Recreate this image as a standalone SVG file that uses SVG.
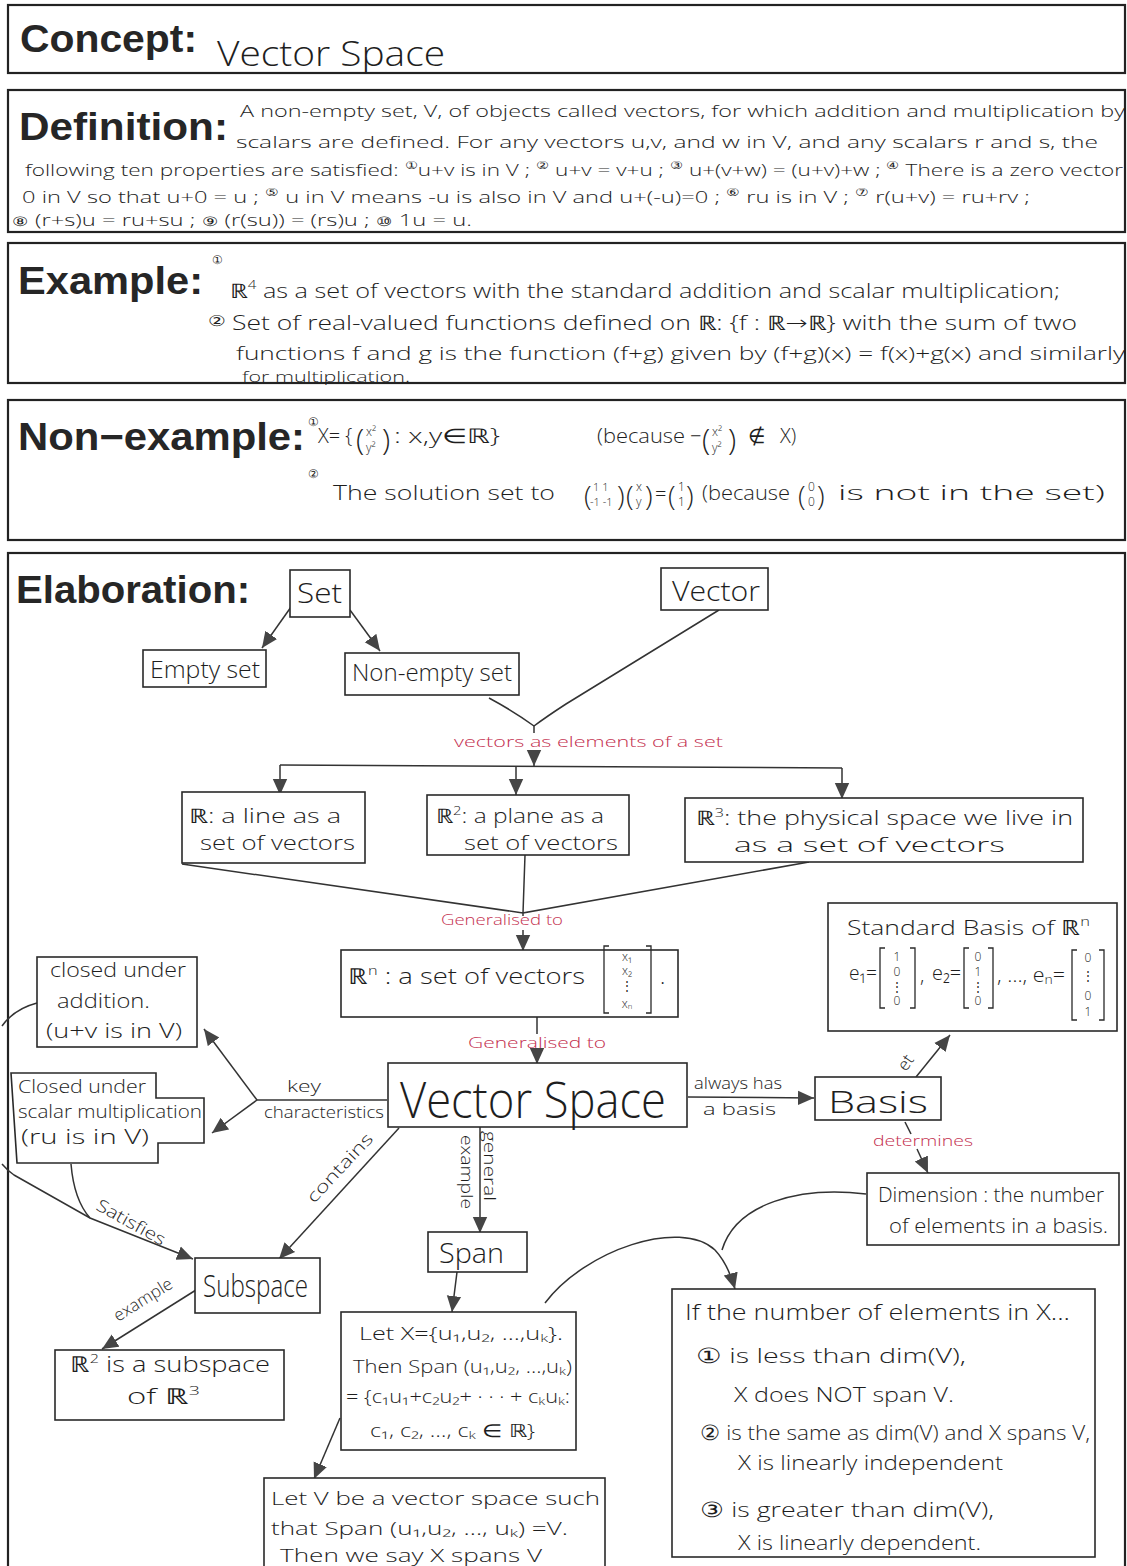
<svg xmlns="http://www.w3.org/2000/svg" width="1127" height="1566" viewBox="0 0 1127 1566">
<style>
.sec{fill:none;stroke:#222;stroke-width:2.2}
.hd{font-family:"Liberation Sans",Arial,sans-serif;font-weight:bold;font-size:38px;fill:#262626}
.hw{font-family:"Open Sans","DejaVu Sans",sans-serif;font-weight:300;fill:#1e1e1e}
.box{fill:#fff;stroke:#2a2a2a;stroke-width:1.6}
.ln{fill:none;stroke:#333;stroke-width:1.5}
.ar{fill:none;stroke:#333;stroke-width:1.5;marker-end:url(#ah)}
.red{font-family:"Open Sans","DejaVu Sans",sans-serif;font-weight:300;fill:#c4304f;font-size:15px}
.lb{font-family:"Open Sans","DejaVu Sans",sans-serif;font-weight:300;fill:#1e1e1e;font-size:17px}
.br{fill:none;stroke:#2a2a2a;stroke-width:1.3}
</style>
<defs>
<marker id="ah" viewBox="0 0 10 10" refX="10" refY="5" markerWidth="16" markerHeight="16" markerUnits="userSpaceOnUse" orient="auto">
<path d="M0,0.5 L10,5 L0,9.5 z" fill="#454545"/>
</marker>
</defs>
<rect width="1127" height="1566" fill="#fff"/>

<!-- Concept -->
<g id="concept">
<rect class="sec" x="8" y="5" width="1117" height="68"/>
<text class="hd" x="20" y="52" textLength="177" lengthAdjust="spacingAndGlyphs">Concept:</text>
<text class="hw" x="217" y="66" font-size="34" textLength="228" lengthAdjust="spacingAndGlyphs">Vector Space</text>
</g>

<!-- Definition -->
<g id="definition">
<rect class="sec" x="8" y="90" width="1117" height="142"/>
<text class="hd" x="19" y="140" textLength="209" lengthAdjust="spacingAndGlyphs">Definition:</text>
<g class="hw" font-size="17">
<text x="240" y="117" textLength="885" lengthAdjust="spacingAndGlyphs">A non-empty set, V, of objects called vectors, for which addition and multiplication by</text>
<text x="236" y="148" textLength="862" lengthAdjust="spacingAndGlyphs">scalars are defined. For any vectors u,v, and w in V, and any scalars r and s, the</text>
<text x="25" y="176" textLength="1098" lengthAdjust="spacingAndGlyphs">following ten properties are satisfied: <tspan font-size="11" dy="-7">①</tspan><tspan dy="7">u+v is in V ; </tspan><tspan font-size="11" dy="-7">②</tspan><tspan dy="7"> u+v = v+u ; </tspan><tspan font-size="11" dy="-7">③</tspan><tspan dy="7"> u+(v+w) = (u+v)+w ; </tspan><tspan font-size="11" dy="-7">④</tspan><tspan dy="7"> There is a zero vector</tspan></text>
<text x="22" y="203" textLength="1008" lengthAdjust="spacingAndGlyphs">0 in V so that u+0 = u ; <tspan font-size="11" dy="-7">⑤</tspan><tspan dy="7"> u in V means -u is also in V and u+(-u)=0 ; </tspan><tspan font-size="11" dy="-7">⑥</tspan><tspan dy="7"> ru is in V ; </tspan><tspan font-size="11" dy="-7">⑦</tspan><tspan dy="7"> r(u+v) = ru+rv ;</tspan></text>
<text x="12" y="226" textLength="460" lengthAdjust="spacingAndGlyphs"><tspan font-size="13">⑧</tspan> (r+s)u = ru+su ;  <tspan font-size="13">⑨</tspan> (r(su)) = (rs)u ;  <tspan font-size="13">⑩</tspan> 1u = u.</text>
</g>
</g>

<!-- Example -->
<g id="example">
<rect class="sec" x="8" y="243" width="1117" height="140"/>
<text class="hd" x="18" y="294" textLength="185" lengthAdjust="spacingAndGlyphs">Example:</text>
<g class="hw" font-size="20">
<text x="212" y="264" font-size="12">①</text>
<text x="230" y="298" textLength="830" lengthAdjust="spacingAndGlyphs">ℝ<tspan font-size="12" dy="-9">4</tspan><tspan dy="9"> as a set of vectors with the standard addition and scalar multiplication;</tspan></text>
<text x="208" y="330" textLength="869" lengthAdjust="spacingAndGlyphs"><tspan font-size="15" dy="-4">②</tspan><tspan dy="4"> Set of real-valued functions defined on ℝ: {f : ℝ→ℝ} with the sum of two</tspan></text>
<text x="236" y="360" font-size="19" textLength="889" lengthAdjust="spacingAndGlyphs">functions f and g is the function (f+g) given by (f+g)(x) = f(x)+g(x) and similarly</text>
<text x="242" y="382" font-size="15" textLength="168" lengthAdjust="spacingAndGlyphs">for multiplication.</text>
</g>
</g>

<!-- Non-example -->
<g id="non-example">
<rect class="sec" x="8" y="400" width="1117" height="140"/>
<text class="hd" x="18" y="450" textLength="287" lengthAdjust="spacingAndGlyphs">Non−example:</text>
<g class="hw" font-size="20">
<text x="308" y="426" font-size="12">①</text>
<text x="318" y="443">X= {</text>
<text x="356" y="450" font-size="30">(</text>
<text x="366" y="436" font-size="12">x²</text>
<text x="366" y="452" font-size="12">y²</text>
<text x="382" y="450" font-size="30">)</text>
<text x="394" y="443" textLength="106" lengthAdjust="spacingAndGlyphs">: x,y∈ℝ}</text>
<text x="597" y="443" textLength="88" lengthAdjust="spacingAndGlyphs">(because</text>
<text x="690" y="443">−</text>
<text x="702" y="450" font-size="30">(</text>
<text x="712" y="436" font-size="12">x²</text>
<text x="712" y="452" font-size="12">y²</text>
<text x="728" y="450" font-size="30">)</text>
<text x="748" y="443">∉</text>
<text x="780" y="443">X)</text>

<text x="308" y="478" font-size="12">②</text>
<text x="333" y="500" textLength="222" lengthAdjust="spacingAndGlyphs">The solution set to</text>
<text x="584" y="506" font-size="28">(</text>
<text x="593" y="491" font-size="11">1  1</text>
<text x="590" y="506" font-size="11">-1 -1</text>
<text x="617" y="506" font-size="28">)</text>
<text x="626" y="506" font-size="28">(</text>
<text x="636" y="491" font-size="12">x</text>
<text x="636" y="506" font-size="12">y</text>
<text x="645" y="506" font-size="28">)</text>
<text x="655" y="501">=</text>
<text x="668" y="506" font-size="28">(</text>
<text x="678" y="491" font-size="12">1</text>
<text x="678" y="506" font-size="12">1</text>
<text x="686" y="506" font-size="28">)</text>
<text x="702" y="500" textLength="88" lengthAdjust="spacingAndGlyphs">(because</text>
<text x="798" y="506" font-size="28">(</text>
<text x="808" y="491" font-size="12">0</text>
<text x="808" y="506" font-size="12">0</text>
<text x="817" y="506" font-size="28">)</text>
<text x="838" y="500" textLength="267" lengthAdjust="spacingAndGlyphs">is not in the set)</text>
</g>
</g>

<!-- Elaboration -->
<g id="elaboration">
<rect class="sec" x="8" y="553" width="1117" height="1030"/>
<text class="hd" x="16" y="603" textLength="234" lengthAdjust="spacingAndGlyphs">Elaboration:</text>
</g>

<!-- Connectors -->
<g id="connectors">
<path class="ar" d="M291,607 L262,648"/>
<path class="ar" d="M350,610 L380,651"/>
<path class="ln" d="M489,698 Q515,712 534,726"/>
<path class="ln" d="M719,610 L566,704 Q546,717 534,726"/>
<path class="ln" d="M534,726 L534,733"/>
<path class="ar" d="M534,750 L534,766"/>
<path class="ln" d="M280,765 L842,768"/>
<path class="ar" d="M280,765 L280,795"/>
<path class="ar" d="M516,766 L516,795"/>
<path class="ar" d="M842,768 L842,799"/>
<text class="red" x="454" y="747" font-size="16" textLength="269" lengthAdjust="spacingAndGlyphs">vectors as elements of a set</text>

<path class="ln" d="M182,864 L523,913 M525,855 L523,913 M809,862 L523,913 L523,916"/>
<text class="red" x="441" y="925" textLength="122" lengthAdjust="spacingAndGlyphs">Generalised to</text>
<path class="ar" d="M523,930 L523,951"/>

<path class="ln" d="M537,1017 L537,1034"/>
<text class="red" x="468" y="1048" textLength="138" lengthAdjust="spacingAndGlyphs">Generalised to</text>
<path class="ar" d="M537,1052 L537,1064"/>

<path class="ar" d="M688,1097 L814,1098"/>
<text class="lb" x="694" y="1089" textLength="88" lengthAdjust="spacingAndGlyphs">always has</text>
<text class="lb" x="703" y="1115" textLength="73" lengthAdjust="spacingAndGlyphs">a basis</text>

<path class="ar" d="M916,1077 L950,1035"/>
<text class="lb" transform="translate(906,1072) rotate(-55)">et</text>

<path class="ln" d="M905,1122 L911,1134"/>
<text class="red" x="873" y="1146" textLength="100" lengthAdjust="spacingAndGlyphs">determines</text>
<path class="ar" d="M917,1149 L928,1173"/>

<path class="ln" d="M866,1194 C800,1186 736,1203 722,1250"/>
<path class="ar" d="M545,1303 C585,1250 680,1218 715,1250 Q728,1264 735,1289"/>

<path class="ln" d="M387,1100 L257,1100"/>
<path class="ar" d="M257,1100 L204,1029"/>
<path class="ar" d="M257,1100 L212,1133"/>
<text class="lb" x="287" y="1092" font-size="18" textLength="34" lengthAdjust="spacingAndGlyphs">key</text>
<text class="lb" x="264" y="1118" textLength="120" lengthAdjust="spacingAndGlyphs">characteristics</text>

<path class="ar" d="M399,1128 L279,1259"/>
<text class="lb" transform="translate(314,1204) rotate(-47)" textLength="88" lengthAdjust="spacingAndGlyphs">contains</text>

<path class="ar" d="M480,1127 L480,1233"/>
<text class="lb" transform="translate(484,1131) rotate(90)" textLength="70" lengthAdjust="spacingAndGlyphs">general</text>
<text class="lb" transform="translate(461,1135) rotate(90)" textLength="74" lengthAdjust="spacingAndGlyphs">example</text>

<path class="ar" d="M457,1272 L452,1312"/>
<path class="ar" d="M340,1418 L314,1479"/>

<path class="ar" d="M196,1290 L102,1349"/>
<text class="lb" transform="translate(118,1322) rotate(-32)" textLength="66" lengthAdjust="spacingAndGlyphs">example</text>

<path class="ln" d="M37,1003 Q14,1009 2,1026"/>
<path class="ln" d="M71,1164 Q74,1200 90,1218"/>
<path class="ar" d="M2,1164 Q8,1171 14,1175 L90,1218 L193,1259"/>
<text class="lb" transform="translate(95,1209) rotate(29)" textLength="76" lengthAdjust="spacingAndGlyphs">Satisfies</text>
</g>

<!-- Nodes -->
<g id="node-set">
<rect class="box" x="290" y="570" width="60" height="47"/>
<text class="hw" x="297" y="603" font-size="28" textLength="45" lengthAdjust="spacingAndGlyphs">Set</text>
</g>
<g id="node-vector">
<rect class="box" x="661" y="568" width="107" height="42"/>
<text class="hw" x="672" y="601" font-size="28" textLength="88" lengthAdjust="spacingAndGlyphs">Vector</text>
</g>
<g id="node-empty">
<rect class="box" x="143" y="650" width="123" height="37"/>
<text class="hw" x="150" y="678" font-size="24" textLength="110" lengthAdjust="spacingAndGlyphs">Empty set</text>
</g>
<g id="node-nonempty">
<rect class="box" x="345" y="653" width="174" height="42"/>
<text class="hw" x="352" y="681" font-size="24" textLength="160" lengthAdjust="spacingAndGlyphs">Non-empty set</text>
</g>
<g id="node-r1">
<rect class="box" x="182" y="792" width="183" height="71"/>
<text class="hw" x="189" y="823" font-size="20" textLength="152" lengthAdjust="spacingAndGlyphs">ℝ: a line as a</text>
<text class="hw" x="200" y="850" font-size="20" textLength="155" lengthAdjust="spacingAndGlyphs">set of vectors</text>
</g>
<g id="node-r2">
<rect class="box" x="427" y="795" width="202" height="60"/>
<text class="hw" x="436" y="823" font-size="20" textLength="168" lengthAdjust="spacingAndGlyphs">ℝ<tspan font-size="12" dy="-8">2</tspan><tspan dy="8">: a plane as a</tspan></text>
<text class="hw" x="464" y="850" font-size="20" textLength="154" lengthAdjust="spacingAndGlyphs">set of vectors</text>
</g>
<g id="node-r3">
<rect class="box" x="685" y="798" width="398" height="64"/>
<text class="hw" x="696" y="825" font-size="20" textLength="377" lengthAdjust="spacingAndGlyphs">ℝ<tspan font-size="12" dy="-8">3</tspan><tspan dy="8">: the physical space we live in</tspan></text>
<text class="hw" x="734" y="852" font-size="20" textLength="271" lengthAdjust="spacingAndGlyphs">as a set of vectors</text>
</g>
<g id="node-rn">
<rect class="box" x="341" y="950" width="337" height="67"/>
<text class="hw" x="348" y="984" font-size="22" textLength="237" lengthAdjust="spacingAndGlyphs">ℝ<tspan font-size="13" dy="-9">n</tspan><tspan dy="9"> : a set of vectors</tspan></text>
<path class="br" d="M609,946 H604 V1013 H609 M646,946 H651 V1013 H646"/>
<g class="hw" font-size="12" text-anchor="middle">
<text x="627" y="961">x₁</text>
<text x="627" y="975">x₂</text>
<text x="627" y="990">⋮</text>
<text x="627" y="1008">xₙ</text>
</g>
<text class="hw" x="660" y="984" font-size="22">.</text>
</g>
<g id="node-standard-basis">
<rect class="box" x="828" y="903" width="289" height="128"/>
<text class="hw" x="847" y="935" font-size="21" textLength="243" lengthAdjust="spacingAndGlyphs">Standard Basis of ℝ<tspan font-size="13" dy="-9">n</tspan></text>
<g class="hw" font-size="20">
<text x="849" y="980" textLength="28" lengthAdjust="spacingAndGlyphs">e₁=</text>
<text x="920" y="982">,</text>
<text x="932" y="980" textLength="29" lengthAdjust="spacingAndGlyphs">e₂=</text>
<text x="997" y="982" textLength="68" lengthAdjust="spacingAndGlyphs">, …, eₙ=</text>
</g>
<path class="br" d="M885,948 H880 V1008 H885 M910,948 H915 V1008 H910 M969,948 H964 V1008 H969 M988,948 H993 V1008 H988 M1077,950 H1072 V1020 H1077 M1099,950 H1104 V1020 H1099"/>
<g class="hw" font-size="12" text-anchor="middle">
<text x="897" y="961">1</text><text x="897" y="976">0</text><text x="897" y="991">⋮</text><text x="897" y="1005">0</text>
<text x="978" y="961">0</text><text x="978" y="976">1</text><text x="978" y="991">⋮</text><text x="978" y="1005">0</text>
<text x="1088" y="962">0</text><text x="1088" y="980">⋮</text><text x="1088" y="1000">0</text><text x="1088" y="1016">1</text>
</g>
</g>
<g id="node-addition">
<rect class="box" x="37" y="957" width="160" height="90"/>
<text class="hw" x="50" y="977" font-size="20" textLength="136" lengthAdjust="spacingAndGlyphs">closed under</text>
<text class="hw" x="57" y="1008" font-size="20" textLength="93" lengthAdjust="spacingAndGlyphs">addition.</text>
<text class="hw" x="46" y="1038" font-size="20" textLength="136" lengthAdjust="spacingAndGlyphs">(u+v is in V)</text>
</g>
<g id="node-scalar">
<path class="box" d="M11,1073 H156 V1098 H204 V1143 H158 V1163 H17 Z"/>
<text class="hw" x="18" y="1093" font-size="19" textLength="128" lengthAdjust="spacingAndGlyphs">Closed under</text>
<text class="hw" x="18" y="1118" font-size="19" textLength="184" lengthAdjust="spacingAndGlyphs">scalar multiplication</text>
<text class="hw" x="21" y="1144" font-size="20" textLength="128" lengthAdjust="spacingAndGlyphs">(ru is in V)</text>
</g>
<g id="node-vector-space">
<rect class="box" x="388" y="1063" width="299" height="64"/>
<text class="hw" x="400" y="1118" font-size="50" textLength="266" lengthAdjust="spacingAndGlyphs">Vector Space</text>
</g>
<g id="node-basis">
<rect class="box" x="815" y="1077" width="126" height="43"/>
<text class="hw" x="828" y="1113" font-size="32" textLength="100" lengthAdjust="spacingAndGlyphs">Basis</text>
</g>
<g id="node-dimension">
<rect class="box" x="867" y="1173" width="252" height="72"/>
<text class="hw" x="878" y="1202" font-size="20" textLength="226" lengthAdjust="spacingAndGlyphs">Dimension : the number</text>
<text class="hw" x="889" y="1233" font-size="20" textLength="219" lengthAdjust="spacingAndGlyphs">of elements in a basis.</text>
</g>
<g id="node-subspace">
<rect class="box" x="195" y="1258" width="125" height="55"/>
<text class="hw" x="203" y="1297" font-size="32" textLength="105" lengthAdjust="spacingAndGlyphs">Subspace</text>
</g>
<g id="node-span">
<rect class="box" x="428" y="1232" width="99" height="40"/>
<text class="hw" x="439" y="1263" font-size="28" textLength="65" lengthAdjust="spacingAndGlyphs">Span</text>
</g>
<g id="node-r2-subspace">
<rect class="box" x="55" y="1350" width="229" height="70"/>
<text class="hw" x="70" y="1372" font-size="22" textLength="200" lengthAdjust="spacingAndGlyphs">ℝ<tspan font-size="13" dy="-9">2</tspan><tspan dy="9"> is a subspace</tspan></text>
<text class="hw" x="127" y="1404" font-size="22" textLength="73" lengthAdjust="spacingAndGlyphs">of ℝ<tspan font-size="13" dy="-9">3</tspan></text>
</g>
<g id="node-span-def">
<rect class="box" x="341" y="1312" width="235" height="138"/>
<text class="hw" x="359" y="1340" font-size="18" textLength="204" lengthAdjust="spacingAndGlyphs">Let X={u₁,u₂, …,uₖ}.</text>
<text class="hw" x="353" y="1373" font-size="18" textLength="219" lengthAdjust="spacingAndGlyphs">Then Span (u₁,u₂, …,uₖ)</text>
<text class="hw" x="346" y="1403" font-size="18" textLength="224" lengthAdjust="spacingAndGlyphs">= {c₁u₁+c₂u₂+ · · · + cₖuₖ:</text>
<text class="hw" x="370" y="1437" font-size="18" textLength="165" lengthAdjust="spacingAndGlyphs">c₁, c₂, …, cₖ ∈ ℝ}</text>
</g>
<g id="node-spans">
<rect class="box" x="264" y="1478" width="341" height="100"/>
<text class="hw" x="271" y="1505" font-size="19" textLength="329" lengthAdjust="spacingAndGlyphs">Let V be a vector space such</text>
<text class="hw" x="271" y="1535" font-size="19" textLength="297" lengthAdjust="spacingAndGlyphs">that Span (u₁,u₂, …, uₖ) =V.</text>
<text class="hw" x="280" y="1562" font-size="19" textLength="262" lengthAdjust="spacingAndGlyphs">Then we say X spans V</text>
</g>
<g id="node-if">
<rect class="box" x="672" y="1289" width="423" height="268"/>
<text class="hw" x="685" y="1320" font-size="22" textLength="385" lengthAdjust="spacingAndGlyphs">If the number of elements in X...</text>
<text class="hw" x="696" y="1363" font-size="21" textLength="270" lengthAdjust="spacingAndGlyphs">① is less than dim(V),</text>
<text class="hw" x="734" y="1402" font-size="21" textLength="220" lengthAdjust="spacingAndGlyphs">X does NOT span V.</text>
<text class="hw" x="700" y="1440" font-size="21" textLength="390" lengthAdjust="spacingAndGlyphs">② is the same as dim(V) and X spans V,</text>
<text class="hw" x="738" y="1470" font-size="21" textLength="265" lengthAdjust="spacingAndGlyphs">X is linearly independent</text>
<text class="hw" x="700" y="1517" font-size="21" textLength="294" lengthAdjust="spacingAndGlyphs">③ is greater than dim(V),</text>
<text class="hw" x="738" y="1550" font-size="21" textLength="243" lengthAdjust="spacingAndGlyphs">X is linearly dependent.</text>
</g>
</svg>
